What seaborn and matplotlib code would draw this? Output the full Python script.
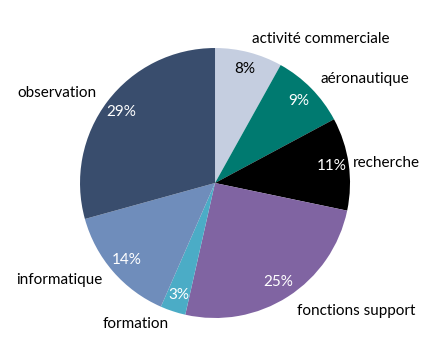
import matplotlib
matplotlib.use('Agg')
import matplotlib.pyplot as plt
import seaborn as sns
import numpy as np

categories = ['activité commerciale', 'aéronautique', 'recherche', 'fonctions support',
              'formation', 'informatique', 'observation']
values = [8, 9, 11, 25, 3, 14, 29]
colors = ['#C5CEE0', '#007A70', '#000000', '#8064A2', '#4BACC6', '#6F8DBB', '#394D6D']
pct_colors = ['black', 'white', 'white', 'white', 'white', 'white', 'white']
label_dist = [1.1, 1.1, 1.03, 1.13, 1.1, 1.1, 1.1]

sns.set_theme(style='white')
plt.rcParams['font.family'] = ['Lato', 'DejaVu Sans']

fig = plt.figure(figsize=(4.27, 3.58), dpi=100)
ax = fig.add_axes([0.1874, 0.1117, 0.6323, 0.7542])

wedges, texts, autotexts = ax.pie(values, labels=categories, colors=colors,
                                  startangle=90, counterclock=False,
                                  autopct='%.0f%%', pctdistance=0.87, labeldistance=1.1,
                                  wedgeprops=dict(linewidth=0),
                                  textprops=dict(fontsize=11, color='black'))
for w, t, d in zip(wedges, texts, label_dist):
    ang = np.deg2rad((w.theta1 + w.theta2) / 2)
    t.set_position((d * np.cos(ang), d * np.sin(ang)))
for t, c in zip(autotexts, pct_colors):
    t.set_color(c)
    t.set_fontsize(11)

ax.set_xlim(-1, 1)
ax.set_ylim(-1, 1)
ax.set_aspect('equal')

fig.savefig('out.png', dpi=100)
